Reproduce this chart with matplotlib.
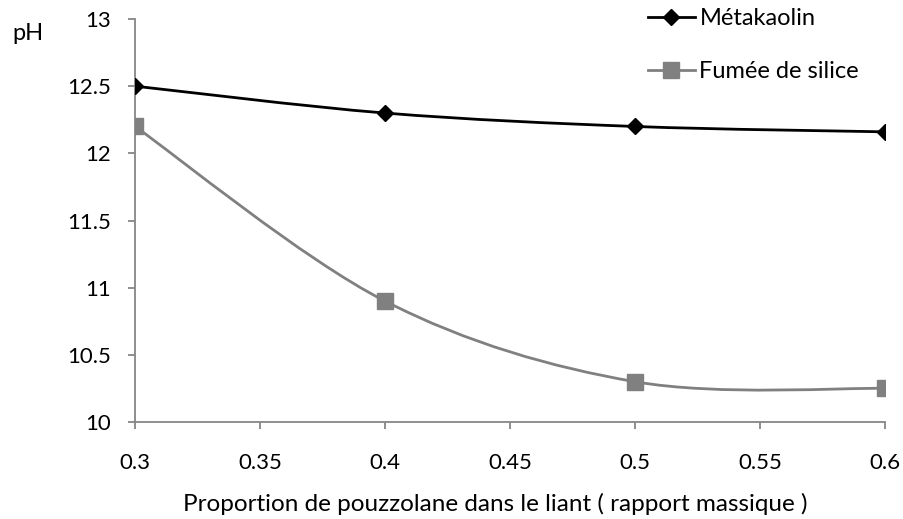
import numpy as np
import matplotlib.pyplot as plt
from matplotlib.path import Path
from matplotlib.patches import PathPatch

plt.rcParams['font.family'] = ['Lato', 'DejaVu Sans']

proportion = [0.3, 0.4, 0.5, 0.6]
metakaolin = [12.5, 12.3, 12.2, 12.16]
fumee = [12.2, 10.9, 10.3, 10.25]
xticks = [0.3, 0.35, 0.4, 0.45, 0.5, 0.55, 0.6]
yticks = [10, 10.5, 11, 11.5, 12, 12.5, 13]


def smooth_path(x, y):
    # Excel-style smoothed line: cubic Bezier through the points
    p = np.column_stack([x, y])
    n = len(p)
    verts = [p[0]]
    codes = [Path.MOVETO]
    for i in range(n - 1):
        p0 = p[max(i - 1, 0)]
        p3 = p[min(i + 2, n - 1)]
        c1 = p[i] + (p[i + 1] - p0) / 6
        c2 = p[i + 1] - (p3 - p[i]) / 6
        verts += [c1, c2, p[i + 1]]
        codes += [Path.CURVE4] * 3
    return Path(verts, codes)


fig = plt.figure(figsize=(9.04, 5.19), dpi=100)
ax = fig.add_axes([135 / 904, 1 - 422 / 519, 750 / 904, 403 / 519])

ax.add_patch(PathPatch(smooth_path(proportion, metakaolin), fill=False,
                       edgecolor='black', lw=2, zorder=2))
ax.add_patch(PathPatch(smooth_path(proportion, fumee), fill=False,
                       edgecolor='#808080', lw=2, zorder=2))
ax.plot(proportion, metakaolin, ls='none', marker='D', ms=8.5, color='black',
        zorder=3)
ax.plot(proportion, fumee, ls='none', marker='s', ms=11, color='#808080',
        zorder=3)

# legend proxies
ax.plot([], [], color='black', lw=2, marker='D', ms=8.5, label='Métakaolin')
ax.plot([], [], color='#808080', lw=2, marker='s', ms=11, label='Fumée de silice')
ax.legend(loc='upper left', bbox_to_anchor=(0.655, 1.08), frameon=False,
          fontsize=17, handlelength=2.0, handletextpad=0.2, labelspacing=1.35)

ax.set_xlim(0.3, 0.6)
ax.set_ylim(10, 13)
ax.set_xticks(xticks)
ax.set_xticklabels([f'{v:g}' for v in xticks])
ax.set_yticks(yticks)
ax.set_yticklabels([f'{v:g}' for v in yticks])
ax.tick_params(labelsize=16, colors='#868686', length=5, width=1.3,
               labelcolor='black')
ax.tick_params(axis='x', pad=17)
ax.tick_params(axis='y', pad=12)
for s in ['top', 'right']:
    ax.spines[s].set_visible(False)
for s in ['left', 'bottom']:
    ax.spines[s].set_color('#868686')
    ax.spines[s].set_linewidth(1.3)

ax.set_xlabel('Proportion de pouzzolane dans le liant ( rapport massique )',
              fontsize=17.5, labelpad=15)
ax.xaxis.label.set_x(0.48)
fig.text(12 / 904, 1 - 33 / 519, 'pH', fontsize=17, va='center', ha='left')

fig.savefig('out.png', dpi=100)
